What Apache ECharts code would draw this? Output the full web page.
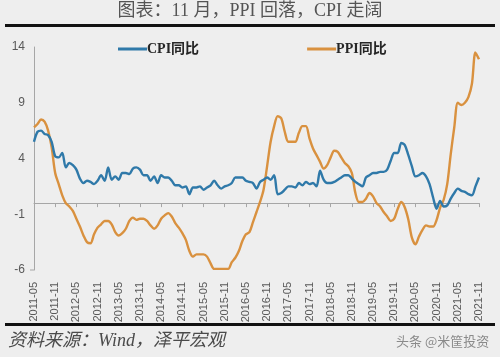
<!DOCTYPE html>
<html>
<head>
<meta charset="utf-8">
<script src="https://cdn.jsdelivr.net/npm/echarts@6/dist/echarts.min.js"></script>
<style>
html,body{margin:0;padding:0;background:#eeeeee;}
#c{width:500px;height:357px;}
</style>
</head>
<body>
<div id="c"></div>
<script>
// Months 2011-05 .. 2021-11
var startYear = 2011, startMonth = 5, nMonths = 127;
var categories = [];
for (var i = 0; i < nMonths; i++) {
  var m = startMonth - 1 + i;
  var y = startYear + Math.floor(m / 12);
  var mm = (m % 12) + 1;
  categories.push(y + '-' + (mm < 10 ? '0' + mm : mm));
}

var cpiYoY = [
  5.5, 6.4, 6.5, 6.2, 6.1, 5.5, 4.2, 4.1,
  4.5, 3.2, 3.6, 3.4, 3.0, 2.2, 1.8, 2.0, 1.9, 1.7, 2.0, 2.5,
  2.0, 3.2, 2.1, 2.4, 2.1, 2.7, 2.7, 2.6, 3.1, 3.2, 3.0, 2.5,
  2.5, 2.0, 2.4, 1.8, 2.5, 2.3, 2.3, 2.0, 1.6, 1.6, 1.4, 1.5,
  0.8, 1.4, 1.4, 1.5, 1.2, 1.4, 1.6, 2.0, 1.6, 1.3, 1.5, 1.6,
  1.8, 2.3, 2.3, 2.3, 2.0, 1.9, 1.8, 1.3, 1.9, 2.1, 2.3, 2.1,
  2.5, 0.8, 0.9, 1.2, 1.5, 1.5, 1.4, 1.8, 1.6, 1.9, 1.7, 1.8,
  1.5, 2.9, 2.1, 1.8, 1.8, 1.9, 2.1, 2.3, 2.5, 2.5, 2.2, 1.9,
  1.7, 1.5, 2.3, 2.5, 2.7, 2.7, 2.8, 2.8, 3.0, 3.8, 4.5, 4.5,
  5.4, 5.2, 4.3, 3.3, 2.4, 2.5, 2.7, 2.4, 1.7, 0.5, -0.5, 0.2,
  -0.3, -0.2, 0.4, 0.9, 1.3, 1.1, 1.0, 0.8, 0.7, 1.5, 2.3
];

var ppiYoY = [
  6.8, 7.1, 7.5, 7.3, 6.5, 5.0, 2.7, 1.7,
  0.7, 0.0, -0.3, -0.7, -1.4, -2.1, -2.9, -3.5, -3.6, -2.8, -2.2, -1.9,
  -1.6, -1.6, -1.9, -2.6, -2.9, -2.7, -2.3, -1.6, -1.3, -1.5, -1.4, -1.4,
  -1.6, -2.0, -2.3, -2.0, -1.4, -1.1, -0.9, -1.2, -1.8, -2.2, -2.7, -3.3,
  -4.3, -4.8, -4.6, -4.6, -4.6, -4.8, -5.4, -5.9, -5.9, -5.9, -5.9, -5.9,
  -5.3, -4.9, -4.3, -3.4, -2.8, -2.6, -1.7, -0.8, 0.1, 1.2, 3.3, 5.5,
  6.9, 7.8, 7.6, 6.4, 5.5, 5.5, 5.5, 6.3, 6.9, 6.9, 5.8, 4.9,
  4.3, 3.7, 3.1, 3.4, 4.1, 4.7, 4.6, 4.1, 3.6, 3.3, 2.7, 0.9,
  0.1, 0.1, 0.4, 0.9, 0.6, 0.0, -0.3, -0.8, -1.2, -1.6, -1.4, -0.5,
  0.1, -0.4, -1.5, -3.1, -3.7, -3.0, -2.4, -2.0, -2.1, -2.1, -1.5, -0.4,
  0.3, 1.7, 4.4, 6.8, 9.0, 8.8, 9.0, 9.5, 10.7, 13.5, 12.9
];

var seriesNames = ['CPI同比', 'PPI同比'];
var titleText = '图表：11 月，PPI 回落，CPI 走阔';
var sourceText = '资料来源：Wind，泽平宏观';
var watermarkText = '头条 @米筐投资';

var cpiColor = '#2f79a9';
var ppiColor = '#d9913f';
var axisGray = '#a6a6a6';
var labelGray = '#595959';

var chart = echarts.init(document.getElementById('c'), null, {renderer: 'canvas'});
chart.setOption({
  backgroundColor: '#eeeeee',
  animation: false,
  grid: {left: 34, right: 21, top: 47, bottom: 87},
  legend: {
    data: seriesNames,
    top: 37,
    left: 113,
    itemGap: 108,
    itemWidth: 29,
    itemHeight: 3,
    icon: 'rect',
    textStyle: {fontSize: 14, fontWeight: 'bold', color: '#262626', fontFamily: 'Liberation Serif, Noto Sans CJK SC', padding: [0, 0, 0, -5]}
  },
  xAxis: [
    {
      type: 'category',
      data: categories,
      boundaryGap: false,
      position: 'bottom',
      axisLine: {show: false, onZero: false},
      axisTick: {show: false},
      axisLabel: {rotate: 90, interval: 5, fontSize: 11, color: labelGray, margin: 12, fontFamily: 'Liberation Sans'}
    },
    {
      type: 'category',
      data: categories,
      boundaryGap: false,
      position: 'top',
      axisLine: {show: true, onZero: true, lineStyle: {color: axisGray, width: 1}},
      axisTick: {show: true, interval: 5, length: 4, inside: true, lineStyle: {color: axisGray}},
      axisLabel: {show: false}
    }
  ],
  yAxis: {
    type: 'value',
    min: -6,
    max: 14,
    interval: 5,
    axisLine: {show: true, onZero: false, lineStyle: {color: axisGray}},
    axisTick: {show: false},
    splitLine: {show: false},
    axisLabel: {fontSize: 12, color: labelGray, margin: 9, fontFamily: 'Liberation Sans'}
  },
  series: [
    {
      name: seriesNames[0], type: 'line', data: cpiYoY, xAxisIndex: 0,
      showSymbol: false, smooth: 0.3,
      lineStyle: {color: cpiColor, width: 2.4}, itemStyle: {color: cpiColor}, z: 3
    },
    {
      name: seriesNames[1], type: 'line', data: ppiYoY, xAxisIndex: 0,
      showSymbol: false, smooth: 0.3,
      lineStyle: {color: ppiColor, width: 2.4}, itemStyle: {color: ppiColor}, z: 2
    }
  ],
  graphic: [
    {type: 'text', left: 'center', top: 2, style: {text: titleText, fontSize: 18, fill: '#555555', fontFamily: 'Liberation Serif, Noto Sans CJK SC'}},
    {type: 'rect', shape: {x: 5, y: 24, width: 490, height: 3}, style: {fill: '#111'}},
    {type: 'rect', shape: {x: 5, y: 323, width: 490, height: 3}, style: {fill: '#111'}},
    {type: 'line', shape: {x1: 30, y1: 270, x2: 34, y2: 270}, style: {stroke: axisGray, lineWidth: 1}},
    {type: 'text', left: 8, top: 332, style: {text: sourceText, fontSize: 18, fontStyle: 'italic', fill: '#4a4a4a', fontFamily: 'Liberation Serif, Noto Sans CJK SC'}},
    {type: 'text', left: 396, top: 335, style: {text: watermarkText, fontSize: 13, fill: '#8a8a8a', fontFamily: 'Noto Sans CJK SC'}}
  ]
});
</script>
</body>
</html>
